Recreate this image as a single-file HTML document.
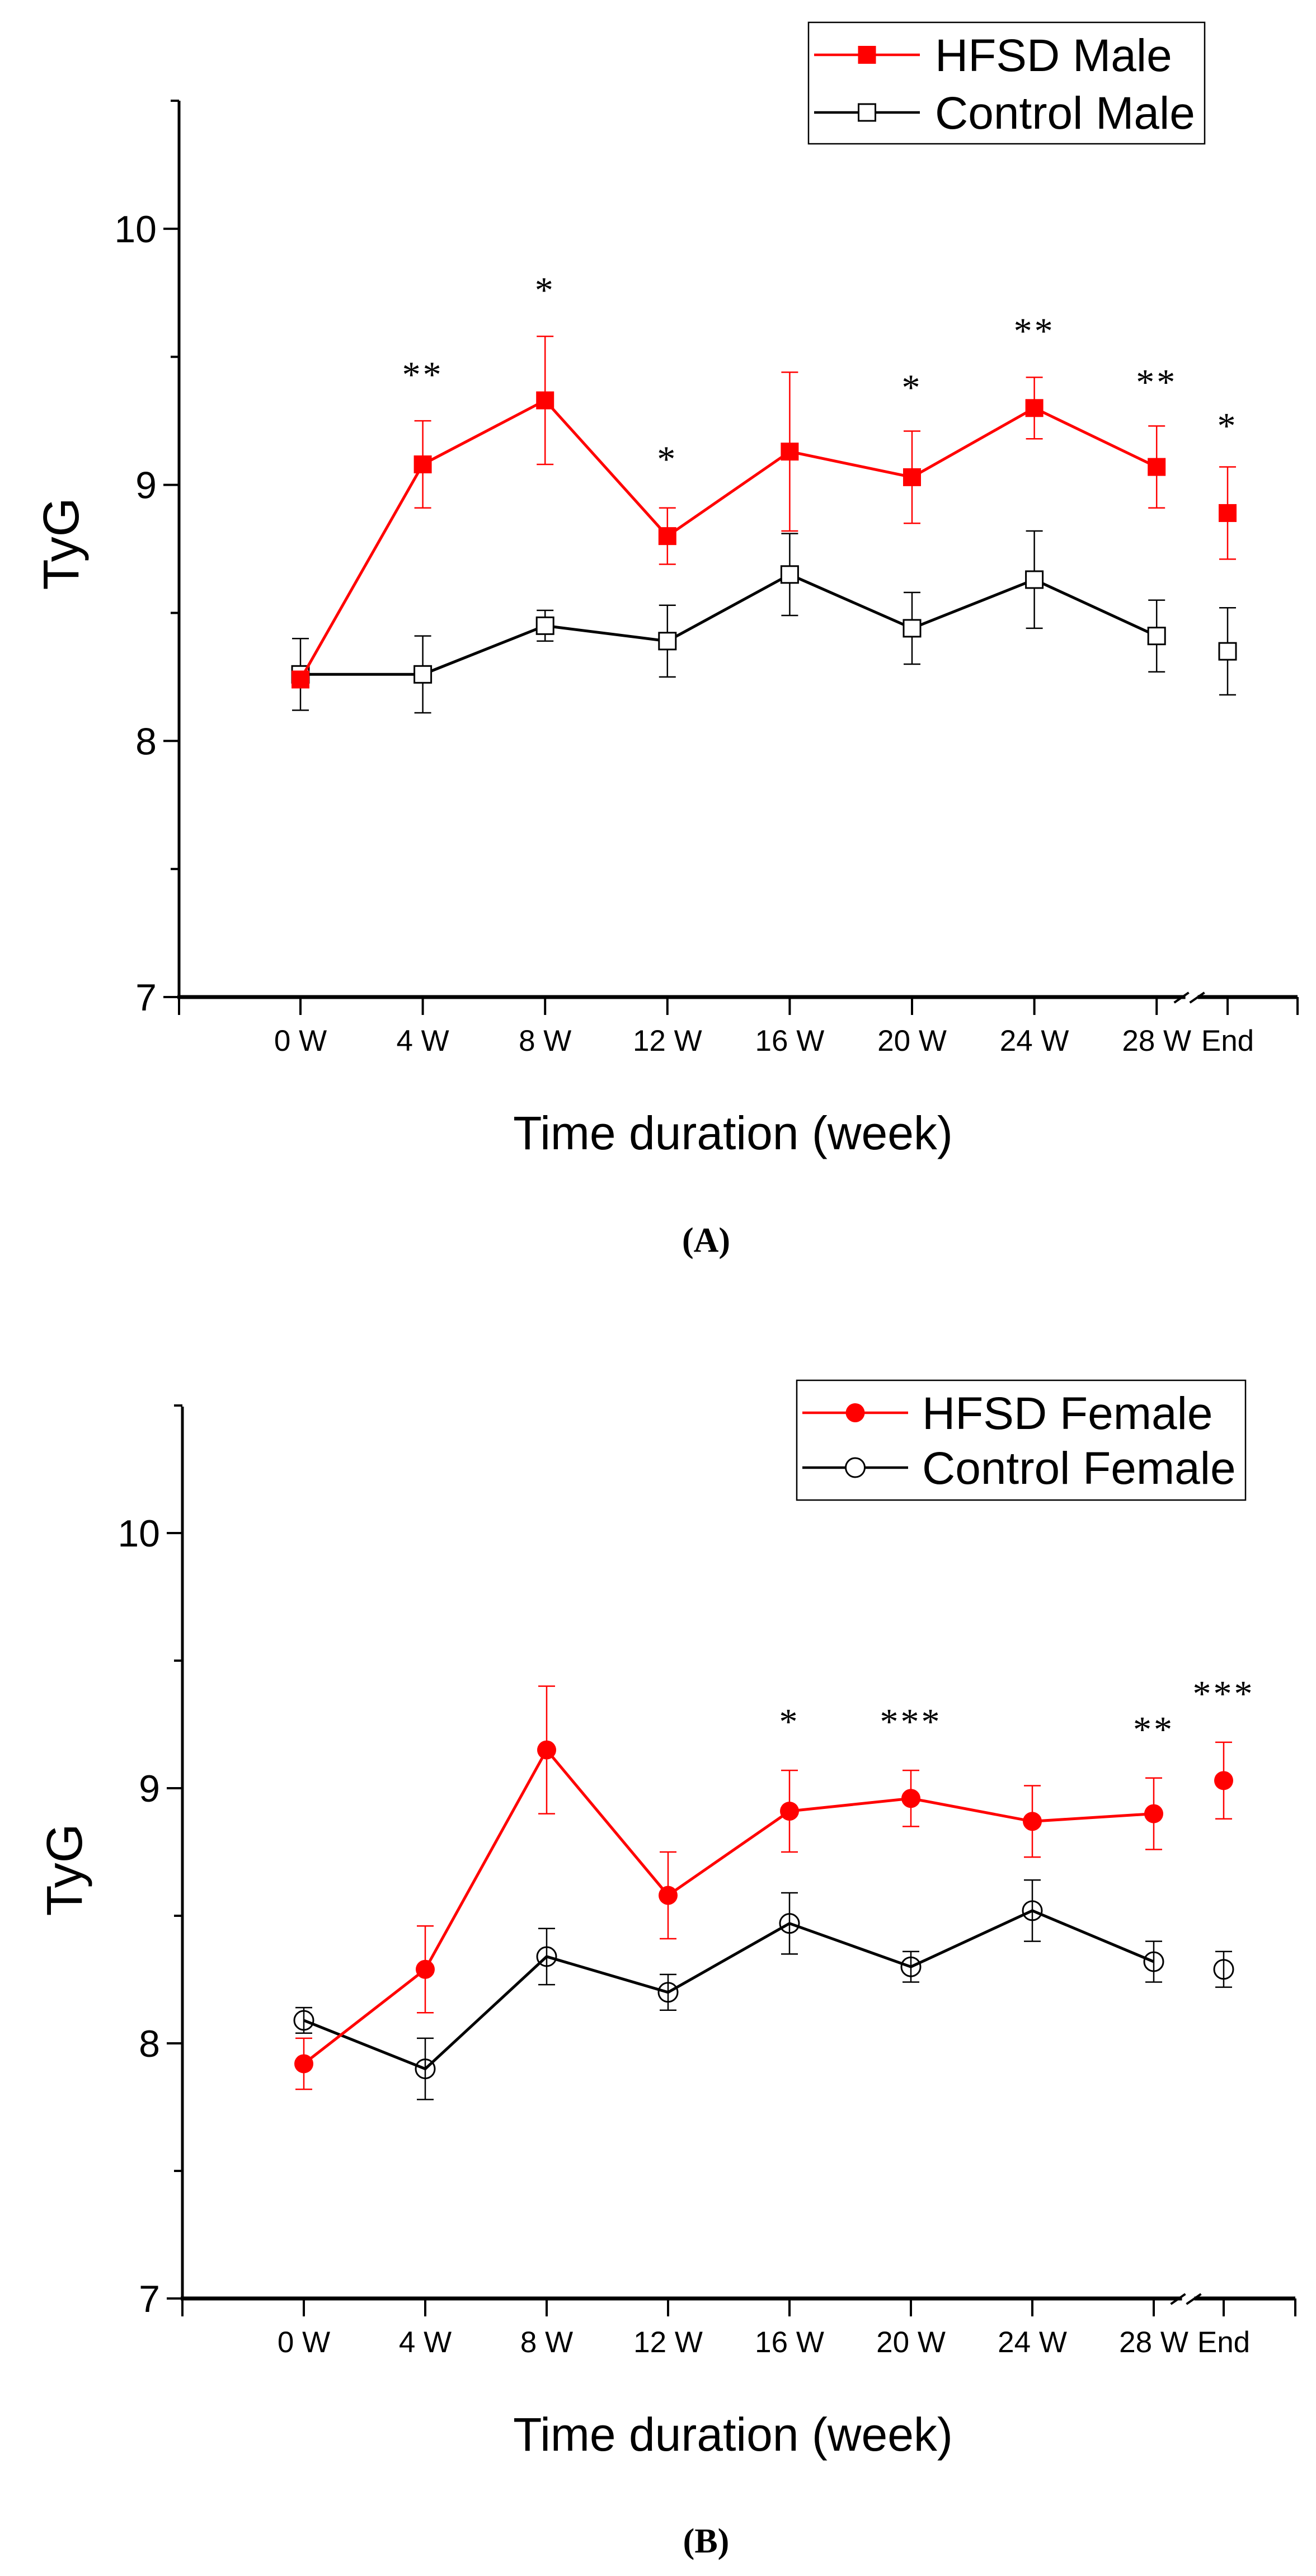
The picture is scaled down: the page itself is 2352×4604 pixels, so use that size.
<!DOCTYPE html>
<html><head><meta charset="utf-8"><style>
html,body{margin:0;padding:0;background:#fff;}
svg{display:block;}
text{font-family:"Liberation Sans",Arial,sans-serif;}
</style></head><body>
<svg id="fig" width="2352" height="4604" viewBox="0 0 2352 4604" xmlns="http://www.w3.org/2000/svg"></svg>
<script>
const categories = ["0 W","4 W","8 W","12 W","16 W","20 W","24 W","28 W","End"];
const yTicks = [7,8,9,10];
const hfsdMale = [8.24,9.08,9.33,8.80,9.13,9.03,9.30,9.07,8.89];
const hfsdMaleErr = [0.02,0.17,0.25,0.11,0.31,0.18,0.12,0.16,0.18];
const ctrlMale = [8.26,8.26,8.45,8.39,8.65,8.44,8.63,8.41,8.35];
const ctrlMaleErr = [0.14,0.15,0.06,0.14,0.16,0.14,0.19,0.14,0.17];
const starsMale = ["","**","*","*","","*","**","**","*"];
const starsMaleY = [0,9.47,9.80,9.14,0,9.42,9.64,9.44,9.27];
const hfsdFemale = [7.92,8.29,9.15,8.58,8.91,8.96,8.87,8.90,9.03];
const hfsdFemaleErr = [0.10,0.17,0.25,0.17,0.16,0.11,0.14,0.14,0.15];
const ctrlFemale = [8.09,7.90,8.34,8.20,8.47,8.30,8.52,8.32,8.29];
const ctrlFemaleErr = [0.05,0.12,0.11,0.07,0.12,0.06,0.12,0.08,0.07];
const starsFemale = ["","","","","*","***","","**","***"];
const starsFemaleY = [0,0,0,0,9.30,9.30,0,9.27,9.41];

const NS="http://www.w3.org/2000/svg";
const fig=document.getElementById('fig');
function mk(tag,attrs,parent,txt){const e=document.createElementNS(NS,tag);for(const k in attrs)e.setAttribute(k,attrs[k]);if(txt!==undefined)e.textContent=txt;parent.appendChild(e);return e;}

function panel(cfg){
  const g=mk('g',{},fig);
  
  
  const yS=v=>cfg.y7-(v-7)*cfg.unit;
  const xS=i=>i<8?cfg.x0+i*cfg.dx:cfg.xEnd;
  const ya=mk('line',{x1:cfg.ax,y1:cfg.yTop,x2:cfg.ax,y2:cfg.y7+3,stroke:'#000','stroke-width':5},g);
  
  
  for(let v=7;v<=10.5;v+=0.5){
    const major=Number.isInteger(v);
    mk('line',{x1:cfg.ax-(major?28:15),y1:yS(v),x2:cfg.ax,y2:yS(v),stroke:'#000','stroke-width':4},g);
  }
  yTicks.forEach(v=>{
    const t=mk('text',{x:cfg.ax-40,y:yS(v)+24,'font-size':68,'text-anchor':'end'},g,String(v));
    
    
  });
  const xa=mk('line',{x1:cfg.ax-3,y1:cfg.y7,x2:cfg.xRight,y2:cfg.y7,stroke:'#000','stroke-width':7},g);
  
  
  const bx=(xS(7)+xS(8))/2;
  mk('rect',{x:bx-12,y:cfg.y7-6,width:22,height:12,fill:'#fff'},g);
  mk('line',{x1:bx-32,y1:cfg.y7+10,x2:bx-6,y2:cfg.y7-8,stroke:'#000','stroke-width':4},g);
  mk('line',{x1:bx-4,y1:cfg.y7+10,x2:bx+22,y2:cfg.y7-8,stroke:'#000','stroke-width':4},g);
  const tickXs=[cfg.ax,...categories.map((c,i)=>xS(i)),cfg.xRight];
  tickXs.forEach(x=>mk('line',{x1:x,y1:cfg.y7,x2:x,y2:cfg.y7+32,stroke:'#000','stroke-width':4},g));
  categories.forEach((c,i)=>{
    const t=mk('text',{x:xS(i),y:cfg.y7+96,'font-size':53,'text-anchor':'middle'},g,c);
    
    
  });
  const xt=mk('text',{x:1310,y:cfg.y7+272,'font-size':84,'text-anchor':'middle'},g,'Time duration (week)');
  
  
  const yt=mk('text',{x:0,y:0,'font-size':90,'text-anchor':'middle',transform:`translate(${cfg.ax-180},${yS(cfg.ytY)}) rotate(-90)`},g,'TyG');
  
  
  const pl=mk('text',{x:1262,y:cfg.labelY,'font-size':62,'text-anchor':'middle','font-weight':'bold',style:'font-family:"Liberation Serif",serif'},g,cfg.label);
  
  

  function series(vals,errs,color,marker,name){
    const sg=mk('g',{},g);
    
    
    vals.forEach((v,i)=>{
      const x=xS(i);
      mk('line',{x1:x,y1:yS(v+errs[i]),x2:x,y2:yS(v-errs[i]),stroke:color,'stroke-width':2.5},sg);
      mk('line',{x1:x-15,y1:yS(v+errs[i]),x2:x+15,y2:yS(v+errs[i]),stroke:color,'stroke-width':2.5},sg);
      mk('line',{x1:x-15,y1:yS(v-errs[i]),x2:x+15,y2:yS(v-errs[i]),stroke:color,'stroke-width':2.5},sg);
    });
    const pts=vals.slice(0,8).map((v,i)=>xS(i)+','+yS(v)).join(' ');
    mk('polyline',{points:pts,fill:'none',stroke:color,'stroke-width':5},sg);
    vals.forEach((v,i)=>{
      let m;
      const x=xS(i),y=yS(v);
      if(marker==='sq-fill')m=mk('rect',{x:x-16,y:y-16,width:32,height:32,fill:color},sg);
      else if(marker==='sq-open')m=mk('rect',{x:x-15,y:y-15,width:30,height:30,fill:'#fff',stroke:'#000','stroke-width':3},sg);
      else if(marker==='ci-fill')m=mk('circle',{cx:x,cy:y,r:17,fill:color},sg);
      else m=mk('circle',{cx:x,cy:y,r:17,fill:'none',stroke:'#000','stroke-width':3},sg);
      
      
    });
  }
  series(cfg.c,cfg.ce,'#000',cfg.cMarker,'control-series');
  series(cfg.h,cfg.he,'#ff0000',cfg.hMarker,'hfsd-series');
  cfg.stars.forEach((s,i)=>{
    if(!s)return;
    const t=mk('text',{x:xS(i),y:yS(cfg.starsY[i])+40,'font-size':66,'text-anchor':'middle','letter-spacing':'4',style:'font-family:"Liberation Serif",serif'},g,s);
    
    
  });
  const L=cfg.leg;
  const lg=mk('g',{},g);
  
  
  mk('rect',{x:L.x,y:L.y,width:L.w,height:L.h,fill:'#fff',stroke:'#000','stroke-width':2.5},lg);
  [[cfg.hName,'#ff0000',cfg.hMarker,L.r1],[cfg.cName,'#000',cfg.cMarker,L.r2]].forEach(([nm,col,mkr,ry])=>{
    const eg=mk('g',{},lg);
    
    
    mk('line',{x1:L.lx1,y1:ry,x2:L.lx2,y2:ry,stroke:col,'stroke-width':4.5},eg);
    const mx=(L.lx1+L.lx2)/2;
    if(mkr==='sq-fill')mk('rect',{x:mx-16,y:ry-16,width:32,height:32,fill:col},eg);
    else if(mkr==='sq-open')mk('rect',{x:mx-15,y:ry-15,width:30,height:30,fill:'#fff',stroke:'#000','stroke-width':3},eg);
    else if(mkr==='ci-fill')mk('circle',{cx:mx,cy:ry,r:17,fill:col},eg);
    else mk('circle',{cx:mx,cy:ry,r:17,fill:'#fff',stroke:'#000','stroke-width':3},eg);
    mk('text',{x:L.tx,y:ry+29,'font-size':82},eg,nm);
  });
}

panel({name:'panel-a-male',ax:320,yTop:180,y7:1782,unit:457.7,x0:537,dx:218.6,xEnd:2194,xRight:2319,ytY:8.77,
  h:hfsdMale,he:hfsdMaleErr,c:ctrlMale,ce:ctrlMaleErr,stars:starsMale,starsY:starsMaleY,
  hMarker:'sq-fill',cMarker:'sq-open',hName:'HFSD Male',cName:'Control Male',label:'(A)',labelY:2237,
  leg:{x:1445,y:40,w:708,h:217,lx1:1455,lx2:1644,tx:1671,r1:98,r2:201}});
panel({name:'panel-b-female',ax:326,yTop:2514,y7:4108,unit:456,x0:543,dx:217,xEnd:2187,xRight:2315,ytY:8.68,
  h:hfsdFemale,he:hfsdFemaleErr,c:ctrlFemale,ce:ctrlFemaleErr,stars:starsFemale,starsY:starsFemaleY,
  hMarker:'ci-fill',cMarker:'ci-open',hName:'HFSD Female',cName:'Control Female',label:'(B)',labelY:4562,
  leg:{x:1424,y:2467,w:802,h:214,lx1:1434,lx2:1623,tx:1648,r1:2525,r2:2623}});
</script>
</body></html>
